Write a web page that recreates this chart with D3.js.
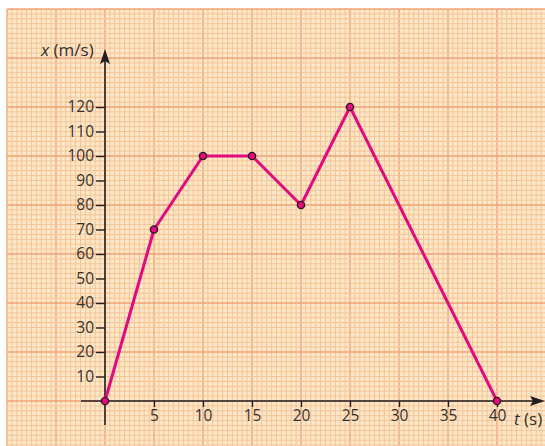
<!DOCTYPE html>
<html><head><meta charset="utf-8">
<script src="https://cdn.jsdelivr.net/npm/d3@7"></script>
<style>body{margin:0;background:#fff}svg{display:block}</style>
</head><body>
<script>
const times = [0, 5, 10, 15, 20, 25, 40];
const values = [0, 70, 100, 100, 80, 120, 0];
const xTicks = [5, 10, 15, 20, 25, 30, 35, 40];
const yTicks = [10, 20, 30, 40, 50, 60, 70, 80, 90, 100, 110, 120];

const W = 545, H = 446;
const svg = d3.select("body").append("svg").attr("width", W).attr("height", H);
const x = d3.scaleLinear().domain([0, 40]).range([105, 497]);
const y = d3.scaleLinear().domain([0, 120]).range([401, 107]);

// graph paper
const gx0 = x(-10), gy0 = y(160);
svg.append("rect").attr("x", gx0).attr("y", gy0).attr("width", W - gx0).attr("height", H - gy0).attr("fill", "#fde7c8");
const grid = svg.append("g");
d3.range(-20, 92).forEach(i => {
  const t = i * 0.5, px = x(t);
  if (px < gx0 - 0.1 || px > W) return;
  const major = i % 10 === 0;
  grid.append("line").attr("x1", px).attr("x2", px).attr("y1", gy0).attr("y2", H)
    .attr("stroke", major ? "#f0a274" : "#f6c494").attr("stroke-width", major ? 1.3 : 1);
});
d3.range(-10, 81).forEach(i => {
  const v = i * 2, py = y(v);
  if (py < gy0 - 0.1 || py > H) return;
  const major = i % 10 === 0;
  grid.append("line").attr("x1", gx0).attr("x2", W).attr("y1", py).attr("y2", py)
    .attr("stroke", major ? "#f0a274" : "#f6c494").attr("stroke-width", major ? 1.3 : 1);
});

const ink = "#231f20";
const font = "'Open Sans', 'Noto Sans', sans-serif";
// axes
svg.append("line").attr("x1", 81).attr("x2", 533).attr("y1", y(0)).attr("y2", y(0)).attr("stroke", ink).attr("stroke-width", 1.6);
svg.append("line").attr("x1", x(0)).attr("x2", x(0)).attr("y1", 425).attr("y2", 60).attr("stroke", ink).attr("stroke-width", 1.6);
svg.append("path").attr("d", `M${x(0)},49 L${x(0)+5},64 L${x(0)},61 L${x(0)-5},64 Z`).attr("fill", ink);
svg.append("path").attr("d", `M545,${y(0)} L530,${y(0)-5} L533,${y(0)} L530,${y(0)+5} Z`).attr("fill", ink);

const xa = svg.append("g").attr("transform", `translate(0,${y(0)})`)
  .call(d3.axisBottom(x).tickValues(xTicks).tickSize(6).tickSizeOuter(0).tickPadding(3));
xa.select(".domain").remove();
xa.selectAll("line").attr("stroke", ink).attr("stroke-width", 1.4);
xa.selectAll("text").attr("font-family", font).attr("font-size", 15.5).attr("fill", "#333");

const ya = svg.append("g").attr("transform", `translate(${x(0)},0)`)
  .call(d3.axisLeft(y).tickValues(yTicks).tickSize(9).tickSizeOuter(0).tickPadding(2));
ya.select(".domain").remove();
ya.selectAll("line").attr("stroke", ink).attr("stroke-width", 1.4);
ya.selectAll("text").attr("font-family", font).attr("font-size", 15.5).attr("fill", "#333");

// axis titles
const ty = svg.append("text").attr("x", 41).attr("y", 56).attr("font-family", font).attr("font-size", 17).attr("fill", "#333");
ty.append("tspan").attr("font-style", "italic").text("x");
ty.append("tspan").text(" (m/s)");
const tx = svg.append("text").attr("x", 514).attr("y", 425).attr("font-family", font).attr("font-size", 17).attr("fill", "#333");
tx.append("tspan").attr("font-style", "italic").text("t");
tx.append("tspan").text(" (s)");

// data line
const data = times.map((t, i) => ({t, v: values[i]}));
svg.append("path").datum(data)
  .attr("d", d3.line().x(d => x(d.t)).y(d => y(d.v)))
  .attr("fill", "none").attr("stroke", "#e5097f").attr("stroke-width", 3).attr("stroke-linejoin", "round");
svg.selectAll("circle.pt").data(data).enter().append("circle").attr("class", "pt")
  .attr("cx", d => x(d.t)).attr("cy", d => y(d.v)).attr("r", 3.6)
  .attr("fill", "#e5097f").attr("stroke", "#2a1a20").attr("stroke-width", 1.4);
</script>
</body></html>
